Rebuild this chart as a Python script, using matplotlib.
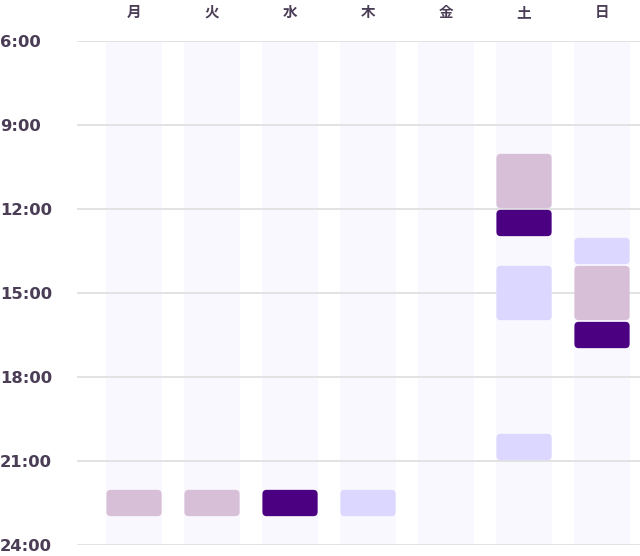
import matplotlib.pyplot as plt
from matplotlib.patches import FancyBboxPatch

plt.rcParams['font.family'] = ['Noto Sans CJK JP', 'DejaVu Sans']

days = ['月', '火', '水', '木', '金', '土', '日']
hour_ticks = [6, 9, 12, 15, 18, 21, 24]
hour_labels = ['6:00', '9:00', '12:00', '15:00', '18:00', '21:00', '24:00']

# 予定: 曜日, 開始, 終了, 種類
ev_day = ['月', '火', '水', '木', '土', '土', '土', '土', '日', '日', '日']
ev_start = [22, 22, 22, 22, 10, 12, 14, 20, 13, 14, 16]
ev_end = [23, 23, 23, 23, 12, 13, 16, 21, 14, 16, 17]
ev_kind = ['a', 'a', 'b', 'c', 'a', 'b', 'c', 'c', 'c', 'a', 'b']

colors = {'a': '#d8bfd8', 'b': '#4b0082', 'c': '#dcd7fe'}
txt = '#4a3d55'

fig = plt.figure(figsize=(6.4, 5.56), dpi=100)
ax = fig.add_axes([77 / 640, 11 / 556, 563 / 640, 504 / 556])

ax.set_xlim(-0.731, 6.487)
ax.set_ylim(24, 6)

colw = 0.718
for i, d in enumerate(days):
    ax.axvspan(i - colw / 2, i + colw / 2, color='#f9f8fe', zorder=0, lw=0)

for h in hour_ticks:
    ax.axhline(h, color='#dedede', lw=1.2, zorder=1)

asp = 78 / 28
for d, s, e, k in zip(ev_day, ev_start, ev_end, ev_kind):
    i = days.index(d)
    w = colw - 0.01
    box = FancyBboxPatch((i - w / 2, s + 0.03), w, (e - s) - 0.06,
                         boxstyle='round,pad=0,rounding_size=0.055',
                         mutation_aspect=asp, fc=colors[k], ec='none', zorder=2)
    ax.add_patch(box)

ax.set_yticks(hour_ticks)
ax.set_yticklabels(hour_labels, fontsize=11.8, fontweight='bold', color=txt,
                   family='DejaVu Sans', ha='left')
ax.tick_params(axis='y', length=0, pad=55.4)

ax.set_xticks([])
for i, d in enumerate(days):
    ax.annotate(d, xy=(i, 6), xytext=(0, 21), textcoords='offset points',
                ha='center', va='center', fontsize=10.5, fontweight='bold',
                color=txt, annotation_clip=False)

for sp in ax.spines.values():
    sp.set_visible(False)

fig.savefig('out.png', dpi=100)
